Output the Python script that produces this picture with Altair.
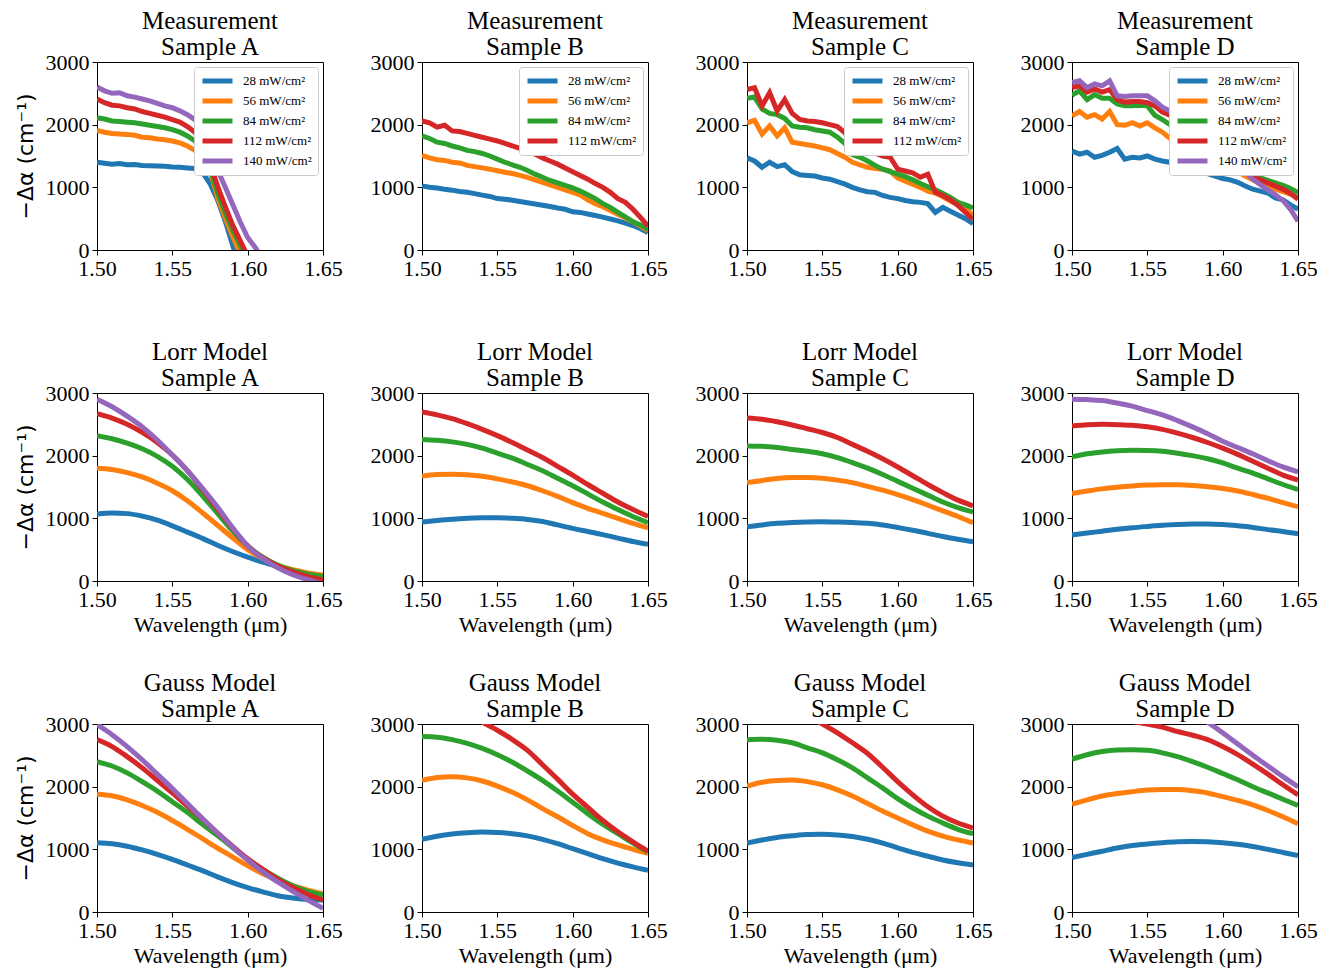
import altair as alt
import pandas as pd

SERIF = "Liberation Serif"

WL_MEAS = [1.500, 1.505, 1.510, 1.515, 1.520, 1.525, 1.530, 1.535, 1.540, 1.545,
           1.550, 1.555, 1.560, 1.565, 1.570, 1.575, 1.580, 1.585, 1.590, 1.595,
           1.600, 1.605, 1.610, 1.615, 1.620, 1.625, 1.630, 1.635, 1.640, 1.645, 1.650]
WL_MODEL = [1.50, 1.51, 1.52, 1.53, 1.54, 1.55, 1.56, 1.57, 1.58, 1.59,
            1.60, 1.61, 1.62, 1.63, 1.64, 1.65]

POWERS = ["28 mW/cm²", "56 mW/cm²", "84 mW/cm²", "112 mW/cm²", "140 mW/cm²"]
COLORS = ["#1f77b4", "#ff7f0e", "#2ca02c", "#d62728", "#9467bd"]
ROW_TITLES = ["Measurement", "Lorr Model", "Gauss Model"]
SAMPLES = ["Sample A", "Sample B", "Sample C", "Sample D"]
X_TICKS = [1.50, 1.55, 1.60, 1.65]
Y_TICKS = [0, 1000, 2000, 3000]
X_TITLE = "Wavelength (μm)"
Y_TITLE = "−Δα (cm⁻¹)"

# ---- Measurement (noisy) ----
MEAS_A = [
    [1400, 1385, 1370, 1380, 1360, 1365, 1350, 1345, 1340, 1335, 1325, 1320, 1310, 1300, 1240, 1060, 800, 470, 80, -300],
    [1910, 1880, 1860, 1850, 1845, 1830, 1800, 1790, 1770, 1760, 1740, 1710, 1660, 1590, 1460, 1270, 840, 520, 220, -60],
    [2110, 2090, 2060, 2050, 2040, 2030, 2010, 1990, 1970, 1950, 1920, 1880, 1820, 1740, 1560, 1300, 920, 600, 320, 80, -200],
    [2410, 2350, 2310, 2300, 2270, 2250, 2210, 2180, 2150, 2120, 2080, 2040, 1970, 1880, 1700, 1380, 1020, 700, 400, 150, -100],
    [2600, 2540, 2500, 2510, 2460, 2440, 2410, 2380, 2340, 2300, 2270, 2220, 2160, 2080, 1960, 1660, 1280, 1010, 730, 450, 200, 40, -150],
]
MEAS_B = [
    [1020, 1000, 990, 970, 955, 935, 920, 900, 875, 855, 820, 810, 795, 775, 755, 735, 715, 695, 670, 650, 610, 600, 575, 550, 525, 495, 465, 430, 390, 340, 280],
    [1510, 1470, 1440, 1430, 1400, 1390, 1350, 1330, 1310, 1290, 1265, 1240, 1220, 1190, 1160, 1120, 1080, 1040, 1000, 960, 920, 880, 800, 740, 690, 630, 570, 510, 450, 380, 310],
    [1820, 1780, 1720, 1700, 1660, 1630, 1590, 1570, 1540, 1500, 1450, 1400, 1360, 1320, 1270, 1210, 1160, 1110, 1070, 1030, 990, 940, 880, 820, 740, 680, 600, 530, 450, 400, 330],
    [2060, 2030, 1960, 1990, 1900, 1890, 1860, 1830, 1800, 1770, 1740, 1700, 1660, 1620, 1580, 1530, 1470, 1420, 1370, 1310, 1250, 1190, 1130, 1060, 1000, 920, 820, 760, 650, 520, 380],
]
MEAS_C = [
    [1470, 1420, 1320, 1400, 1330, 1360, 1250, 1200, 1190, 1180, 1150, 1130, 1090, 1050, 1000, 960, 930, 920, 870, 840, 820, 790, 770, 760, 740, 600, 680, 620, 560, 500, 420],
    [2030, 2070, 1850, 1980, 1820, 1950, 1720, 1700, 1680, 1660, 1630, 1600, 1540, 1480, 1400, 1360, 1320, 1300, 1290, 1260, 1150, 1100, 1050, 1000, 940, 910, 850, 780, 720, 650, 560],
    [2420, 2440, 2250, 2180, 2160, 2100, 1980, 1960, 1950, 1920, 1900, 1880, 1800, 1700, 1520, 1480, 1420, 1350, 1290, 1250, 1210, 1170, 1120, 1060, 1010, 960, 900, 840, 760, 720, 670],
    [2560, 2590, 2300, 2510, 2220, 2400, 2180, 2085, 2060, 2050, 2030, 2000, 1970, 1870, 1700, 1660, 1580, 1550, 1500, 1480, 1290, 1260, 1230, 1160, 1210, 920, 870, 800, 710, 600, 490],
]
MEAS_D = [
    [1580, 1530, 1560, 1480, 1510, 1560, 1620, 1450, 1480, 1470, 1500, 1450, 1420, 1400, 1370, 1340, 1300, 1260, 1220, 1180, 1140, 1120, 1080, 1020, 970, 940, 910, 830, 800, 720, 650],
    [2140, 2210, 2120, 2160, 2090, 2210, 2000, 1990, 2030, 1980, 2030, 1950, 1880, 1780, 1730, 1700, 1600, 1550, 1500, 1450, 1400, 1330, 1250, 1180, 1120, 1060, 1010, 970, 930, 890, 850],
    [2470, 2540, 2400, 2480, 2420, 2420, 2330, 2300, 2300, 2310, 2300, 2150, 2080, 2000, 1940, 1880, 1800, 1720, 1640, 1560, 1480, 1400, 1330, 1260, 1200, 1150, 1110, 1070, 1030, 980, 915],
    [2590, 2620, 2520, 2570, 2520, 2560, 2400, 2360, 2370, 2370, 2350, 2300, 2200, 2150, 2080, 2000, 1900, 1800, 1700, 1600, 1500, 1410, 1330, 1250, 1170, 1120, 1070, 1020, 970, 900, 810],
    [2670, 2700, 2590, 2650, 2620, 2700, 2460, 2450, 2460, 2460, 2460, 2380, 2280, 2220, 2170, 2080, 1980, 1880, 1780, 1680, 1580, 1480, 1370, 1250, 1130, 1040, 960, 880, 790, 650, 460],
]

# ---- Lorr model ----
LORR_A = [
    [1070, 1085, 1075, 1035, 970, 880, 780, 680, 570, 470, 380, 300, 230, 165, 105, 55],
    [1800, 1780, 1730, 1660, 1560, 1440, 1280, 1090, 890, 690, 500, 360, 250, 180, 130, 95],
    [2320, 2270, 2200, 2110, 1990, 1830, 1620, 1360, 1080, 800, 560, 380, 250, 165, 110, 70],
    [2670, 2600, 2500, 2370, 2210, 2010, 1760, 1460, 1150, 840, 560, 370, 240, 145, 70, 15],
    [2900, 2780, 2630, 2460, 2250, 2010, 1760, 1480, 1180, 850, 560, 360, 210, 100, 20, -50],
]
LORR_B = [
    [942, 965, 985, 1000, 1008, 1010, 1000, 982, 950, 895, 840, 790, 740, 685, 630, 585],
    [1676, 1700, 1705, 1695, 1670, 1630, 1580, 1520, 1440, 1350, 1250, 1160, 1080, 1000, 920, 850],
    [2260, 2245, 2220, 2180, 2120, 2040, 1960, 1860, 1760, 1640, 1520, 1390, 1260, 1140, 1030, 930],
    [2697, 2650, 2590, 2510, 2420, 2320, 2210, 2090, 1970, 1830, 1690, 1540, 1400, 1260, 1140, 1030],
]
LORR_C = [
    [865, 895, 920, 935, 942, 944, 942, 935, 920, 895, 855, 810, 760, 710, 665, 625],
    [1570, 1605, 1635, 1650, 1650, 1640, 1610, 1570, 1510, 1450, 1380, 1300, 1210, 1120, 1030, 930],
    [2155, 2150, 2130, 2100, 2070, 2030, 1970, 1890, 1800, 1700, 1590, 1480, 1370, 1260, 1170, 1100],
    [2600, 2580, 2540, 2490, 2430, 2370, 2290, 2180, 2070, 1950, 1820, 1680, 1540, 1410, 1290, 1200],
]
LORR_D = [
    [735, 765, 795, 825, 850, 870, 888, 900, 908, 910, 900, 880, 855, 820, 790, 755],
    [1395, 1435, 1470, 1495, 1515, 1530, 1537, 1535, 1525, 1505, 1475, 1435, 1380, 1320, 1250, 1185],
    [1980, 2030, 2060, 2078, 2085, 2082, 2070, 2040, 2000, 1950, 1885, 1800, 1720, 1630, 1540, 1460],
    [2475, 2495, 2500, 2495, 2485, 2460, 2420, 2360, 2290, 2210, 2120, 2020, 1910, 1800, 1690, 1610],
    [2900, 2895, 2880, 2840, 2790, 2720, 2650, 2560, 2460, 2350, 2230, 2130, 2030, 1920, 1820, 1740],
]

# ---- Gauss model ----
GAUSS_A = [
    [1105, 1090, 1050, 990, 920, 840, 750, 660, 560, 470, 390, 320, 260, 225, 200, 190],
    [1880, 1855, 1790, 1700, 1590, 1460, 1320, 1170, 1020, 880, 740, 610, 510, 420, 350, 290],
    [2400, 2330, 2220, 2080, 1930, 1760, 1590, 1400, 1220, 1030, 840, 680, 540, 420, 330, 270],
    [2750, 2640, 2480, 2300, 2100, 1900, 1690, 1480, 1260, 1050, 850, 680, 520, 390, 280, 190],
    [2990, 2830, 2640, 2430, 2200, 1970, 1730, 1490, 1260, 1040, 830, 640, 480, 330, 190, 60],
]
GAUSS_B = [
    [1160, 1210, 1245, 1265, 1275, 1270, 1250, 1215, 1160, 1090, 1010, 930, 850, 780, 720, 665],
    [2100, 2145, 2160, 2140, 2090, 2010, 1910, 1790, 1650, 1520, 1380, 1250, 1150, 1070, 1000, 935],
    [2800, 2790, 2750, 2690, 2610, 2510, 2390, 2250, 2100, 1930, 1750, 1570, 1400, 1250, 1100, 960],
    [3500, 3400, 3280, 3160, 3030, 2900, 2750, 2580, 2350, 2120, 1880, 1670, 1460, 1280, 1120, 970],
]
GAUSS_C = [
    [1100, 1150, 1190, 1215, 1235, 1240, 1230, 1205, 1160, 1100, 1025, 950, 890, 830, 785, 750],
    [2010, 2070, 2100, 2105, 2080, 2030, 1950, 1850, 1730, 1610, 1500, 1390, 1290, 1210, 1150, 1100],
    [2750, 2755, 2740, 2700, 2620, 2540, 2430, 2300, 2140, 1980, 1810, 1660, 1530, 1420, 1320, 1250],
    [3500, 3430, 3340, 3240, 3130, 3000, 2860, 2700, 2530, 2310, 2080, 1870, 1680, 1530, 1420, 1340],
]
GAUSS_D = [
    [870, 920, 970, 1020, 1060, 1085, 1105, 1120, 1125, 1120, 1105, 1080, 1045, 1000, 950, 900],
    [1720, 1790, 1850, 1890, 1920, 1945, 1955, 1955, 1935, 1900, 1840, 1780, 1710, 1620, 1520, 1410],
    [2440, 2510, 2560, 2585, 2590, 2580, 2540, 2480, 2400, 2310, 2210, 2110, 2000, 1900, 1800, 1700],
    [3250, 3200, 3140, 3090, 3040, 3000, 2950, 2880, 2820, 2750, 2640, 2510, 2360, 2200, 2030, 1870],
    [3700, 3700, 3680, 3640, 3580, 3500, 3410, 3310, 3180, 3030, 2860, 2680, 2500, 2330, 2160, 2000],
]

GRID = [
    [MEAS_A, MEAS_B, MEAS_C, MEAS_D],
    [LORR_A, LORR_B, LORR_C, LORR_D],
    [GAUSS_A, GAUSS_B, GAUSS_C, GAUSS_D],
]


def panel(r, c):
    series = GRID[r][c]
    wl = WL_MEAS if r == 0 else WL_MODEL
    recs = []
    for k, vals in enumerate(series):
        for w, v in zip(wl, vals):
            recs.append({"wl": w, "val": v, "power": POWERS[k]})
    df = pd.DataFrame(recs)
    n = len(series)

    color_kw = dict(scale=alt.Scale(domain=POWERS[:n], range=COLORS[:n]))
    if r == 0:
        color_kw["legend"] = alt.Legend(
            title=None, orient="top-right", offset=5,
            symbolType="stroke", symbolStrokeWidth=5, symbolSize=900,
            labelFont=SERIF, labelFontSize=13, labelColor="black",
            strokeColor="#cccccc", fillColor="white", padding=6,
            cornerRadius=3, rowPadding=4, clipHeight=16, labelOffset=8,
        )
    else:
        color_kw["legend"] = None

    x_axis_kw = dict(values=X_TICKS, format=".2f", labelFlush=False, labelOverlap=False)
    x_axis_kw["title"] = X_TITLE if r > 0 else None
    y_axis_kw = dict(values=Y_TICKS, format="d", labelOverlap=False)
    y_axis_kw["title"] = Y_TITLE if c == 0 else None

    chart = alt.Chart(df).mark_line(
        strokeWidth=5, clip=True,
        interpolate="linear" if r == 0 else "monotone",
    ).encode(
        x=alt.X("wl:Q", scale=alt.Scale(domain=[1.5, 1.65], nice=False, zero=False),
                axis=alt.Axis(**x_axis_kw)),
        y=alt.Y("val:Q", scale=alt.Scale(domain=[0, 3000], nice=False),
                axis=alt.Axis(**y_axis_kw)),
        color=alt.Color("power:N", **color_kw),
    ).properties(
        width=226, height=188,
        title=alt.TitleParams([ROW_TITLES[r], SAMPLES[c]]),
    )
    return chart


panels = [panel(r, c) for r in range(3) for c in range(4)]

chart = alt.concat(
    *panels, columns=4, spacing={"row": 143, "column": 99}, bounds="flush",
).resolve_scale(color="independent").resolve_legend(color="independent")

chart = chart.properties(
    padding={"left": 5, "top": 0, "right": 5, "bottom": 5},
).configure_view(
    stroke="black", strokeWidth=1,
).configure_axis(
    labelFont=SERIF, labelFontSize=22, labelColor="black",
    titleFont=SERIF, titleFontSize=22, titleFontWeight="normal", titleColor="black",
    tickColor="black", domainColor="black", tickSize=5, grid=False,
    labelPadding=3, titlePadding=4,
).configure_axisY(
    titleFont="DejaVu Sans", titlePadding=8,
).configure_title(
    font=SERIF, fontSize=25, fontWeight="normal", color="black",
    offset=-9, lineHeight=26, anchor="middle",
)

chart.save("out.html", embed_options={"renderer": "svg", "actions": False})
